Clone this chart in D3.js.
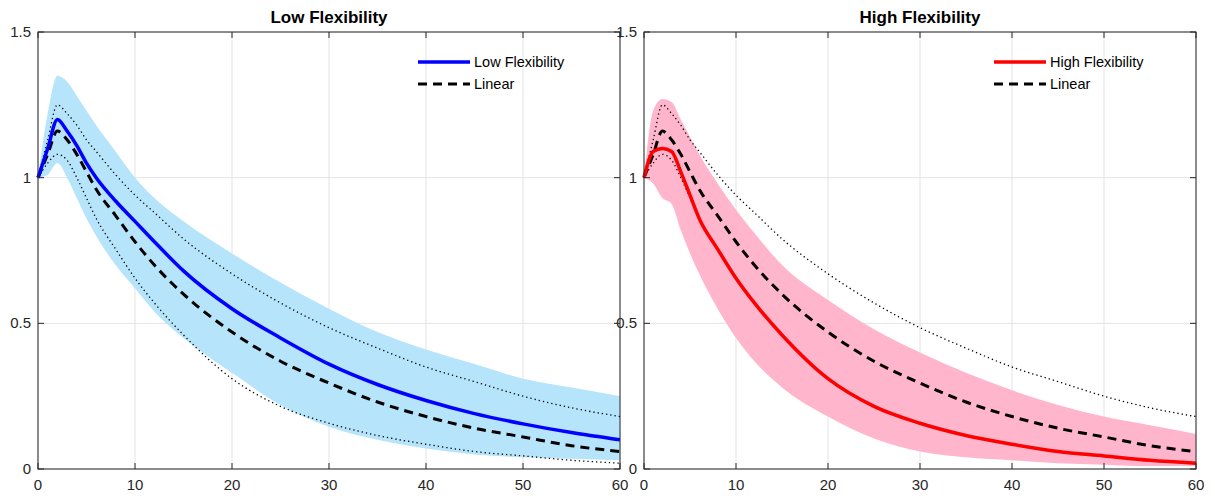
<!DOCTYPE html><html><head><meta charset="utf-8">
<script src="https://cdn.jsdelivr.net/npm/d3@7"></script>
<style>body{margin:0;background:#fff}svg{font-family:"Liberation Sans",Arial,sans-serif}</style></head><body>
<svg id="c" width="1215" height="501"></svg>
<script>
const t = [0,1,2,3,4,5,6,8,10,12,15,20,25,30,35,40,45,50,55,60];
const linMean = [1,1.08,1.16,1.13,1.08,1.02,0.96,0.87,0.78,0.70,0.60,0.47,0.37,0.295,0.23,0.18,0.14,0.11,0.08,0.06];
const linUp = [1,1.13,1.25,1.22,1.18,1.13,1.09,1.01,0.94,0.88,0.79,0.67,0.57,0.485,0.415,0.35,0.30,0.25,0.21,0.18];
const linLo = [1,1.05,1.08,1.06,1.0,0.93,0.86,0.755,0.655,0.57,0.46,0.31,0.215,0.157,0.115,0.085,0.06,0.045,0.03,0.02];
const lowMean = [1,1.1,1.2,1.16,1.11,1.05,1.0,0.92,0.85,0.78,0.68,0.55,0.45,0.36,0.29,0.235,0.19,0.155,0.125,0.10];
const lowUp = [1,1.22,1.35,1.33,1.28,1.23,1.18,1.09,1.0,0.93,0.85,0.74,0.64,0.55,0.47,0.41,0.36,0.31,0.28,0.25];
const lowLo = [1,1.01,1.05,1.0,0.93,0.86,0.80,0.70,0.62,0.54,0.45,0.33,0.22,0.145,0.10,0.07,0.05,0.04,0.035,0.03];
const highMean = [1,1.09,1.10,1.09,1.02,0.94,0.86,0.755,0.655,0.57,0.46,0.31,0.215,0.157,0.115,0.085,0.06,0.045,0.03,0.02];
const highUp = [1,1.23,1.27,1.26,1.2,1.14,1.08,0.98,0.89,0.81,0.70,0.58,0.48,0.40,0.33,0.27,0.22,0.18,0.15,0.12];
const highLo = [1,0.98,0.93,0.91,0.82,0.74,0.67,0.55,0.45,0.37,0.28,0.18,0.105,0.06,0.04,0.03,0.02,0.015,0.01,0.01];
const xTicks = [0,10,20,30,40,50,60];
const yTicks = [0,0.5,1,1.5];

const svg = d3.select("#c");
const panels = [
 {title:"Low Flexibility", x0:38, x1:620, mean:lowMean, up:lowUp, lo:lowLo, color:"#0000ff", fill:"#b5e4fb"},
 {title:"High Flexibility", x0:644, x1:1196, mean:highMean, up:highUp, lo:highLo, color:"#ff0000", fill:"#ffb5cc"}
];
panels.forEach(p=>{
 const x = d3.scaleLinear().domain([0,60]).range([p.x0,p.x1]);
 const y = d3.scaleLinear().domain([0,1.5]).range([469,32]);
 const g = svg.append("g");
 g.selectAll(".gx").data(xTicks).join("line").attr("x1",d=>x(d)).attr("x2",d=>x(d)).attr("y1",32).attr("y2",469).attr("stroke","#e3e3e3");
 g.selectAll(".gy").data(yTicks).join("line").attr("y1",d=>y(d)).attr("y2",d=>y(d)).attr("x1",p.x0).attr("x2",p.x1).attr("stroke","#e3e3e3");
 const idx = d3.range(t.length);
 const curve = d3.curveMonotoneX;
 const area = d3.area().x(i=>x(t[i])).y0(i=>y(p.lo[i])).y1(i=>y(p.up[i])).curve(curve);
 g.append("path").attr("d",area(idx)).attr("fill",p.fill);
 const line = arr => d3.line().x(i=>x(t[i])).y(i=>y(arr[i])).curve(curve)(idx);
 g.append("path").attr("d",line(linUp)).attr("fill","none").attr("stroke","#000").attr("stroke-width",1.3).attr("stroke-dasharray","1.3,3");
 g.append("path").attr("d",line(linLo)).attr("fill","none").attr("stroke","#000").attr("stroke-width",1.3).attr("stroke-dasharray","1.3,3");
 g.append("path").attr("d",line(linMean)).attr("fill","none").attr("stroke","#000").attr("stroke-width",3).attr("stroke-dasharray","9,6");
 g.append("path").attr("d",line(p.mean)).attr("fill","none").attr("stroke",p.color).attr("stroke-width",3.5);
 g.append("rect").attr("x",p.x0).attr("y",32).attr("width",p.x1-p.x0).attr("height",437).attr("fill","none").attr("stroke","#262626").attr("stroke-width",1);
 g.selectAll(".tx").data(xTicks).join("g").each(function(d){
   const s=d3.select(this);
   s.append("line").attr("x1",x(d)).attr("x2",x(d)).attr("y1",469).attr("y2",463).attr("stroke","#262626");
   s.append("line").attr("x1",x(d)).attr("x2",x(d)).attr("y1",32).attr("y2",38).attr("stroke","#262626");
   s.append("text").attr("x",x(d)).attr("y",490).attr("text-anchor","middle").attr("font-size",15).attr("fill","#262626").text(d);
 });
 g.selectAll(".ty").data(yTicks).join("g").each(function(d){
   const s=d3.select(this);
   s.append("line").attr("x1",p.x0).attr("x2",p.x0+6).attr("y1",y(d)).attr("y2",y(d)).attr("stroke","#262626");
   s.append("line").attr("x1",p.x1).attr("x2",p.x1-6).attr("y1",y(d)).attr("y2",y(d)).attr("stroke","#262626");
   s.append("text").attr("x",p.x0-7).attr("y",y(d)+5).attr("text-anchor","end").attr("font-size",15).attr("fill","#262626").text(d);
 });
 g.append("text").attr("x",(p.x0+p.x1)/2).attr("y",23).attr("text-anchor","middle").attr("font-size",17).attr("font-weight","bold").text(p.title);
 const lx = p.x1-202;
 g.append("line").attr("x1",lx).attr("x2",lx+52).attr("y1",62).attr("y2",62).attr("stroke",p.color).attr("stroke-width",3.5);
 g.append("text").attr("x",lx+56).attr("y",67).attr("font-size",14.5).text(p.title);
 g.append("line").attr("x1",lx).attr("x2",lx+52).attr("y1",84).attr("y2",84).attr("stroke","#000").attr("stroke-width",3).attr("stroke-dasharray","9,6");
 g.append("text").attr("x",lx+56).attr("y",89).attr("font-size",14.5).text("Linear");
});
</script></body></html>
